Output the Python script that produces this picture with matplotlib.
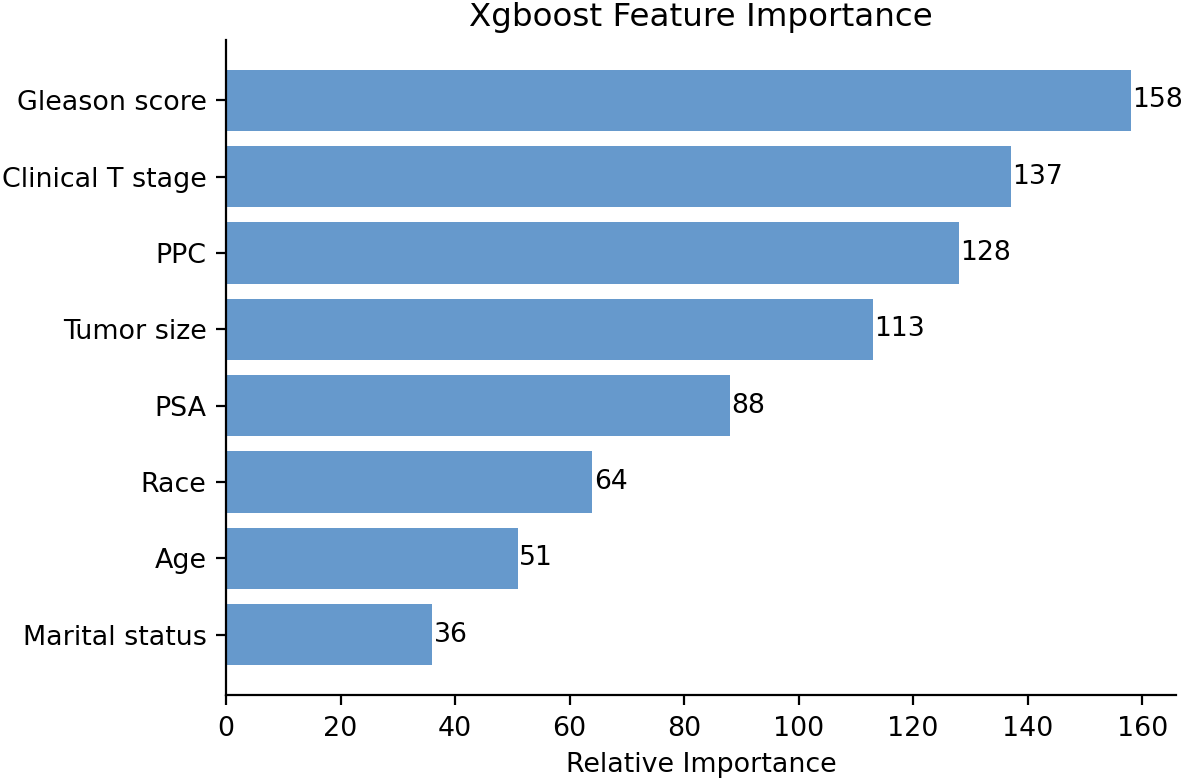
import matplotlib
matplotlib.use("Agg")
import matplotlib.pyplot as plt

features = ["Gleason score", "Clinical T stage", "PPC", "Tumor size", "PSA", "Race", "Age", "Marital status"]
importance = [158, 137, 128, 113, 88, 64, 51, 36]
xticks = [0, 20, 40, 60, 80, 100, 120, 140, 160]

fig = plt.figure(figsize=(1181/200, 780/200), dpi=200)
ax = fig.add_axes([226/1181, 1-695/780, 950/1181, 655/780])

f_rev = features[::-1]
v_rev = importance[::-1]
bars = ax.barh(f_rev, v_rev, height=0.8, color="#6699CC")
ax.bar_label(bars, labels=[str(v) for v in v_rev], padding=0.5, fontsize=9.6)

ax.set_xlabel("Relative Importance", fontsize=9.7, labelpad=3.5)
ax.set_title("Xgboost Feature Importance", fontsize=11.7, pad=5)
ax.tick_params(labelsize=9.7)
ax.tick_params(axis="x", pad=4)
ax.set_xticks(xticks)
ax.spines["top"].set_visible(False)
ax.spines["right"].set_visible(False)

fig.savefig("out.png", dpi=200)
